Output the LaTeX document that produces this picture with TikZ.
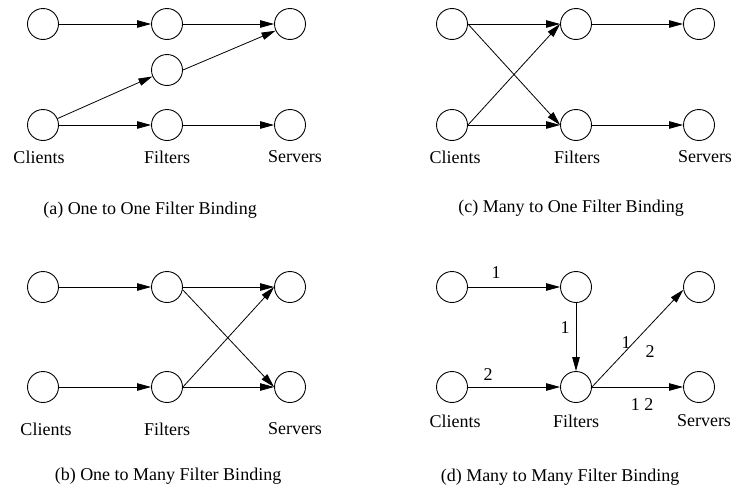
\documentclass[tikz,border=0pt]{standalone}
\usepackage{fontspec}
\setmainfont{Liberation Serif}
\usetikzlibrary{arrows.meta}
\begin{document}
\begin{tikzpicture}[x=1pt,y=-1pt,
  station/.style={circle,draw,line width=0.9pt,minimum size=31pt,inner sep=0pt},
  conn/.style={line width=0.8pt,-{Triangle[length=14pt,width=7.5pt]}},
  lbl/.style={font=\fontsize{18}{20}\selectfont,inner sep=0pt},
  captiontext/.style={font=\fontsize{18}{20}\selectfont,inner sep=0pt,anchor=base},
  num/.style={font=\fontsize{18}{20}\selectfont,inner sep=0pt}]
\useasboundingbox (0,0) rectangle (741,490);

% ---------- (a) ----------
\node[station] (a-c1) at (43,24) {};
\node[station] (a-c2) at (43,125) {};
\node[station] (a-f1) at (167,24) {};
\node[station] (a-fm) at (167,70) {};
\node[station] (a-f2) at (167,125) {};
\node[station] (a-s1) at (290,24) {};
\node[station] (a-s2) at (290,125) {};
\draw[conn] (a-c1.east) -- (a-f1.west);
\draw[conn] (a-f1.east) -- (a-s1.west);
\draw[conn] (a-c2) -- (a-fm);
\draw[conn] (a-fm.east) -- (a-s1.205);
\draw[conn] (a-c2.east) -- (a-f2.west);
\draw[conn] (a-f2.east) -- (a-s2.west);
\node[lbl] (a-lc) at (39,157) {Clients};
\node[lbl] (a-lf) at (167,157) {Filters};
\node[lbl] (a-ls) at (295,157) {Servers};
\node[captiontext] (a-cap) at (150,214) {(a) One to One Filter Binding};

% ---------- (c) ----------
\node[station] (c-c1) at (452,24) {};
\node[station] (c-c2) at (452,125) {};
\node[station] (c-f1) at (576,24) {};
\node[station] (c-f2) at (576,125) {};
\node[station] (c-s1) at (699,24) {};
\node[station] (c-s2) at (699,125) {};
\draw[conn] (c-c1.east) -- (c-f1.west);
\draw[conn] (c-c1.east) -- (c-f2.west);
\draw[conn] (c-c2.east) -- (c-f1.west);
\draw[conn] (c-c2.east) -- (c-f2.west);
\draw[conn] (c-f1.east) -- (c-s1.west);
\draw[conn] (c-f2.east) -- (c-s2.west);
\node[lbl] (c-lc) at (455,157) {Clients};
\node[lbl] (c-lf) at (577,157) {Filters};
\node[lbl] (c-ls) at (705,157) {Servers};
\node[captiontext] (c-cap) at (571,212) {(c) Many to One Filter Binding};

% ---------- (b) ----------
\node[station] (b-c1) at (43,287) {};
\node[station] (b-c2) at (43,387) {};
\node[station] (b-f1) at (167,287) {};
\node[station] (b-f2) at (167,387) {};
\node[station] (b-s1) at (290,287) {};
\node[station] (b-s2) at (290,387) {};
\draw[conn] (b-c1.east) -- (b-f1.west);
\draw[conn] (b-c2.east) -- (b-f2.west);
\draw[conn] (b-f1.east) -- (b-s1.west);
\draw[conn] (b-f1.-10) -- (b-s2.west);
\draw[conn] (b-f2.east) -- (b-s1.west);
\draw[conn] (b-f2.east) -- (b-s2.west);
\node[lbl] (b-lc) at (46,429) {Clients};
\node[lbl] (b-lf) at (167,429) {Filters};
\node[lbl] (b-ls) at (295,429) {Servers};
\node[captiontext] (b-cap) at (168,480) {(b) One to Many Filter Binding};

% ---------- (d) ----------
\node[station] (d-c1) at (452,287) {};
\node[station] (d-c2) at (452,387) {};
\node[station] (d-f1) at (576,287) {};
\node[station] (d-f2) at (576,387) {};
\node[station] (d-s1) at (699,287) {};
\node[station] (d-s2) at (699,387) {};
\draw[conn] (d-c1.east) -- (d-f1.west);
\draw[conn] (d-f1.south) -- (d-f2.north);
\draw[conn] (d-c2.east) -- (d-f2.west);
\draw[conn] (d-f2.east) -- (d-s1.190);
\draw[conn] (d-f2.east) -- (d-s2.west);
\node[num] (d-n1) at (496,273) {1};
\node[num] (d-n2) at (488,375) {2};
\node[num] (d-n3) at (565,328) {1};
\node[num] (d-n4) at (626,343) {1};
\node[num] (d-n5) at (650,352) {2};
\node[num] (d-n6) at (642,405) {1 2};
\node[lbl] (d-lc) at (455,421) {Clients};
\node[lbl] (d-lf) at (576,421) {Filters};
\node[lbl] (d-ls) at (704,421) {Servers};
\node[captiontext] (d-cap) at (560,481) {(d) Many to Many Filter Binding};
\end{tikzpicture}
\end{document}
